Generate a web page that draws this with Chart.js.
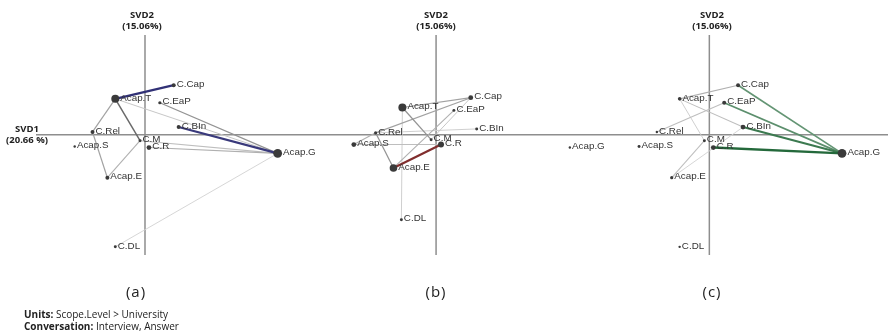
<!DOCTYPE html>
<html>
<head>
<meta charset="utf-8">
<script src="https://cdn.jsdelivr.net/npm/chart.js@4.4.1/dist/chart.umd.min.js"></script>
<style>
  body { margin: 0; background: #fff; }
  #wrap { position: relative; width: 888px; height: 334px; overflow: hidden; }
  canvas { position: absolute; left: 0; top: 0; }
  .t { position: absolute; font-family: "Open Sans", sans-serif; color: #222; white-space: nowrap; }
  .ax { width: 80px; text-align: center; font-size: 9.5px; font-weight: 700; line-height: 11px; }
  .pl { width: 60px; text-align: center; font-size: 15px; letter-spacing: 1px; }
  .ft { font-size: 10px; line-height: 12px; }
</style>
</head>
<body>
<div id="wrap">
  <canvas id="cA" width="888" height="334"></canvas>
  <canvas id="cB" width="888" height="334"></canvas>
  <canvas id="cC" width="888" height="334"></canvas>
  <div class="t ax" style="left:102px;top:9px">SVD2<br>(15.06%)</div>
  <div class="t ax" style="left:396px;top:9px">SVD2<br>(15.06%)</div>
  <div class="t ax" style="left:672px;top:9px">SVD2<br>(15.06%)</div>
  <div class="t ax" style="left:-13px;top:123px">SVD1<br>(20.66 %)</div>
  <div class="t pl" style="left:106px;top:281px">(a)</div>
  <div class="t pl" style="left:406px;top:281px">(b)</div>
  <div class="t pl" style="left:682px;top:281px">(c)</div>
  <div class="t ft" style="left:24px;top:308px"><b>Units:</b> Scope.Level &gt; University<br><b>Conversation:</b> Interview, Answer</div>
</div>
<script>
// codes
var nodeNames = ['Acap.T', 'C.Cap', 'C.EaP', 'C.BIn', 'C.Rel', 'Acap.S', 'C.M', 'C.R', 'Acap.E', 'C.DL', 'Acap.G'];

// (a) and (c) share the same projection
var xA = [-0.30, 0.29, 0.15, 0.34, -0.53, -0.71, -0.05, 0.04, -0.38, -0.30, 1.34];
var yA = [0.37, 0.51, 0.33, 0.08, 0.03, -0.12, -0.06, -0.13, -0.44, -1.15, -0.19];
var xB = [-0.34, 0.35, 0.18, 0.41, -0.61, -0.83, -0.05, 0.05, -0.43, -0.35, 1.35];
var yB = [0.28, 0.38, 0.25, 0.06, 0.02, -0.10, -0.05, -0.10, -0.34, -0.87, -0.13];
var xC = xA;
var yC = yA;

// node weights
var sizeA = [0.75, 0.25, 0.15, 0.25, 0.25, 0.05, 0.12, 0.35, 0.25, 0.12, 0.85];
var sizeB = [0.75, 0.35, 0.12, 0.12, 0.15, 0.35, 0.12, 0.5, 0.7, 0.12, 0.05];
var sizeC = [0.2, 0.25, 0.25, 0.35, 0.05, 0.12, 0.12, 0.35, 0.15, 0.05, 0.85];

// connections [from, to, weight]
var edgesA = [
  ['Acap.T', 'C.Cap', 0.9], ['C.BIn', 'Acap.G', 0.85], ['Acap.T', 'C.M', 0.45],
  ['Acap.T', 'C.Rel', 0.25], ['C.Rel', 'Acap.E', 0.25], ['Acap.E', 'C.M', 0.2],
  ['C.EaP', 'Acap.G', 0.3], ['Acap.T', 'Acap.G', 0.12], ['C.M', 'Acap.G', 0.15],
  ['C.R', 'Acap.G', 0.2], ['C.DL', 'Acap.G', 0.08]
];
var edgesB = [
  ['Acap.E', 'C.R', 0.9], ['Acap.T', 'C.Cap', 0.25], ['C.Rel', 'C.Cap', 0.25],
  ['Acap.T', 'C.M', 0.3], ['Acap.T', 'C.DL', 0.1], ['Acap.S', 'C.Rel', 0.2],
  ['C.Rel', 'Acap.E', 0.3], ['Acap.E', 'C.EaP', 0.2], ['Acap.S', 'C.R', 0.15],
  ['C.Rel', 'C.BIn', 0.1], ['C.Cap', 'C.M', 0.12]
];
var edgesC = [
  ['C.R', 'Acap.G', 0.95], ['C.BIn', 'Acap.G', 0.8], ['C.EaP', 'Acap.G', 0.6],
  ['C.Cap', 'Acap.G', 0.55], ['Acap.T', 'C.Cap', 0.2], ['Acap.T', 'C.BIn', 0.15],
  ['C.Rel', 'C.EaP', 0.15], ['Acap.E', 'C.M', 0.15], ['Acap.T', 'C.M', 0.1],
  ['Acap.E', 'C.BIn', 0.08]
];

var pxPerUnit = 100;

function mixWhite(rgb, f) {
  return 'rgb(' + rgb.map(function(c) { return Math.round(c + (255 - c) * f); }).join(',') + ')';
}

function makePanel(id, cx, cy, xs, ys, sizes, edges, rgb, first) {
  var datasets = [];
  var pts = xs.map(function(v, i) { return {x: v, y: ys[i], name: nodeNames[i]}; });

  datasets.push({
    data: pts,
    pointRadius: sizes.map(function(s) { return 1 + s * 4; }),
    pointBackgroundColor: '#3a3a3a',
    pointBorderWidth: 0,
    order: 0
  });

  for (var i = 0; i < edges.length; i++) {
    var a = nodeNames.indexOf(edges[i][0]);
    var b = nodeNames.indexOf(edges[i][1]);
    var w = edges[i][2];
    var col, width;
    if (w >= 0.5) {
      col = mixWhite(rgb, (1 - w) * 0.7);
      width = 0.8 + w * 1.6;
    } else {
      var g = Math.round(232 - w * 280);
      col = 'rgb(' + g + ',' + g + ',' + g + ')';
      width = 0.8 + w * 1.5;
    }
    datasets.push({
      data: [pts[a], pts[b]],
      showLine: true,
      borderColor: col,
      borderWidth: width,
      pointRadius: 0,
      order: 10 - w * 5
    });
  }

  var axesPlugin = {
    id: 'axes',
    beforeDatasetsDraw: function(chart) {
      var c = chart.ctx;
      var px = chart.scales.x.getPixelForValue(0);
      var py = chart.scales.y.getPixelForValue(0);
      c.save();
      c.strokeStyle = '#8e8e8e';
      c.lineWidth = 1.5;
      c.beginPath();
      c.moveTo(px, 35);
      c.lineTo(px, 255);
      if (first) {
        c.moveTo(36, py);
        c.lineTo(888, py);
      }
      c.stroke();
      c.restore();
    }
  };

  var labelPlugin = {
    id: 'labels',
    afterDatasetsDraw: function(chart) {
      var c = chart.ctx;
      var meta = chart.getDatasetMeta(0);
      c.save();
      c.font = '9.8px "Liberation Sans", Arial, sans-serif';
      c.fillStyle = '#333';
      c.textBaseline = 'middle';
      meta.data.forEach(function(el, i) {
        var r = 1 + sizes[i] * 4;
        c.fillText(nodeNames[i], el.x + r + 1, el.y - 1);
      });
      c.restore();
    }
  };

  return new Chart(document.getElementById(id), {
    type: 'scatter',
    data: {datasets: datasets},
    options: {
      responsive: false,
      animation: false,
      clip: false,
      layout: {padding: 0},
      plugins: {legend: {display: false}, tooltip: {enabled: false}},
      scales: {
        x: {type: 'linear', display: false, min: -cx / pxPerUnit, max: (888 - cx) / pxPerUnit},
        y: {type: 'linear', display: false, min: -(334 - cy) / pxPerUnit, max: cy / pxPerUnit}
      }
    },
    plugins: [axesPlugin, labelPlugin]
  });
}

makePanel('cA', 142, 134, xA, yA, sizeA, edgesA, [34, 34, 108], true);
makePanel('cB', 436, 134, xB, yB, sizeB, edgesB, [120, 30, 30], false);
makePanel('cC', 712, 134, xC, yC, sizeC, edgesC, [28, 100, 52], false);
</script>
</body>
</html>
